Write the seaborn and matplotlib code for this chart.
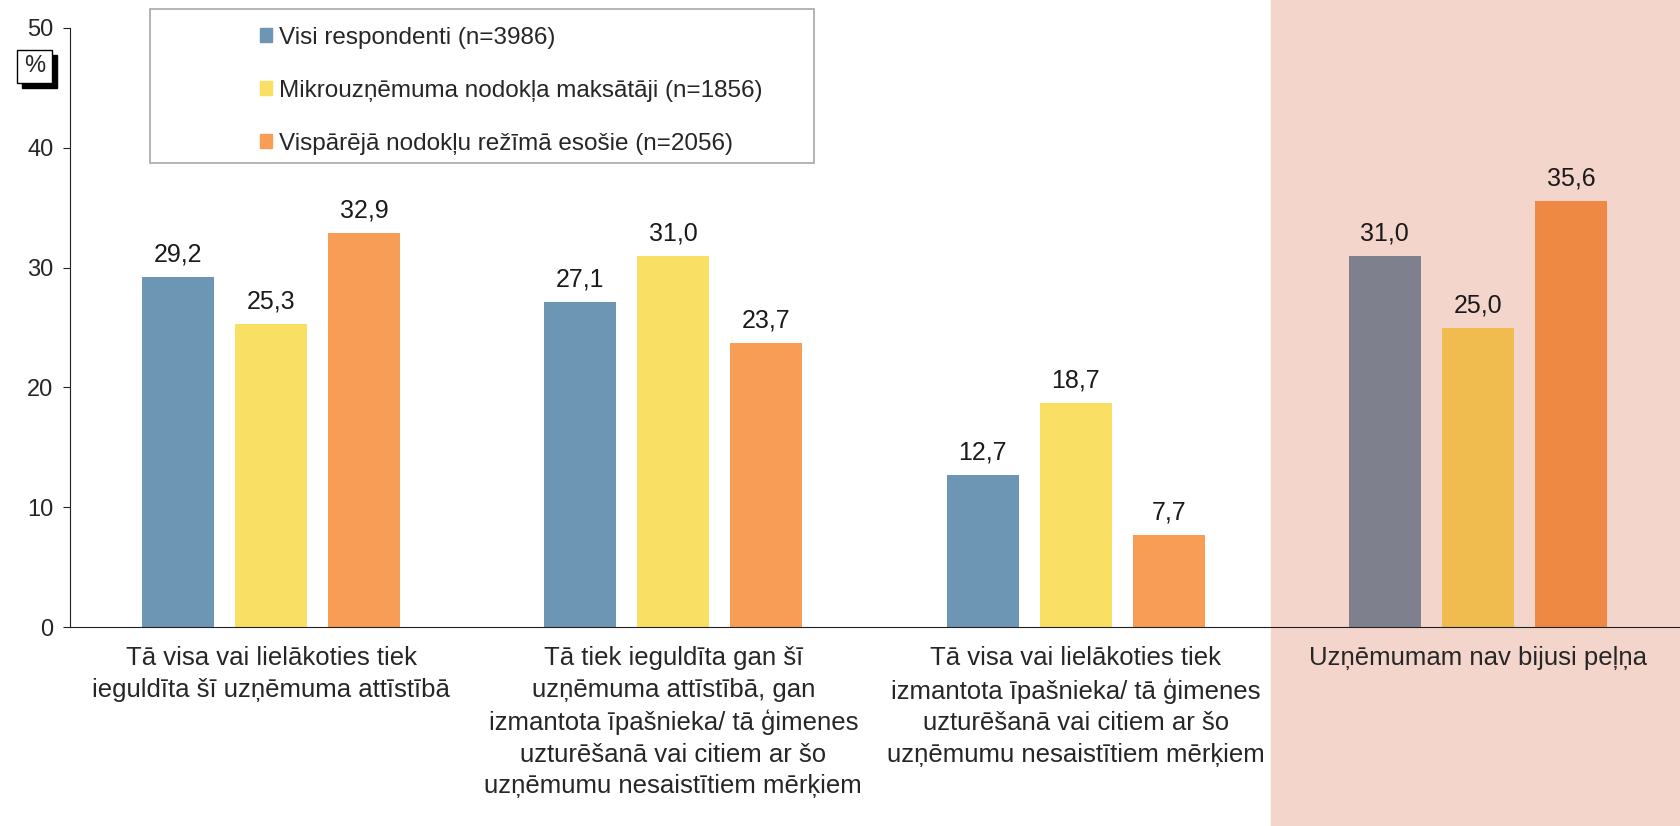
import pandas as pd
import matplotlib.pyplot as plt
import matplotlib.patches as mpatches
import seaborn as sns

categories = [
    'Tā visa vai lielākoties tiek\nieguldīta šī uzņēmuma attīstībā',
    'Tā tiek ieguldīta gan šī\nuzņēmuma attīstībā, gan\nizmantota īpašnieka/ tā ģimenes\nuzturēšanā vai citiem ar šo\nuzņēmumu nesaistītiem mērķiem',
    'Tā visa vai lielākoties tiek\nizmantota īpašnieka/ tā ģimenes\nuzturēšanā vai citiem ar šo\nuzņēmumu nesaistītiem mērķiem',
    'Uzņēmumam nav bijusi peļņa',
]
series = ['Visi respondenti (n=3986)',
          'Mikrouzņēmuma nodokļa maksātāji (n=1856)',
          'Vispārējā nodokļu režīmā esošie (n=2056)']
visi = [29.2, 27.1, 12.7, 31.0]
mikro = [25.3, 31.0, 18.7, 25.0]
vispar = [32.9, 23.7, 7.7, 35.6]

colors = ['#6c96b3', '#f9df63', '#f79d55']
last_colors = ['#7f808d', '#f0bc50', '#ee8944']

rows = []
for s, vals in zip(series, [visi, mikro, vispar]):
    for c, v in zip(categories, vals):
        rows.append({'cat': c, 'series': s, 'value': v})
df = pd.DataFrame(rows)

sns.set_style('white')
plt.rcParams['font.family'] = ['Liberation Sans', 'DejaVu Sans']

fig = plt.figure(figsize=(16.8, 8.26), dpi=100)
# pink band behind the last group
fig.patches.append(mpatches.Rectangle((1271 / 1680, 0), 1 - 1271 / 1680, 1,
                                      transform=fig.transFigure, color='#f4d5cc', zorder=-5))
ax = fig.add_axes([70 / 1680, 1 - 627 / 826, 1609 / 1680, 599 / 826])
ax.set_facecolor('none')

sns.barplot(data=df, x='cat', y='value', hue='series', palette=colors,
            width=0.694, gap=0.225, ax=ax, legend=False, saturation=1,
            linewidth=0, edgecolor='none')

for i, cont in enumerate(ax.containers):
    cont[3].set_facecolor(last_colors[i])
    ax.bar_label(cont, labels=[f'{v:.1f}'.replace('.', ',') for v in cont.datavalues],
                 padding=7.5, fontsize=18, color='#1a1a1a')

ax.set_xlim(-0.5, 3.5)
ax.set_ylim(0, 50)
ax.set_yticks([0, 10, 20, 30, 40, 50])
ax.set_xlabel('')
ax.set_ylabel('')
ax.set_xticks([0.5 * k - 0.5 for k in range(0, 9, 2)], minor=True)
ax.tick_params(axis='x', which='major', length=0, labelsize=18.5, pad=14)
ax.tick_params(axis='x', which='minor', length=7, direction='out', color='#222222')
ax.tick_params(axis='y', length=5, direction='out', left=True, labelsize=17, pad=7,
               color='#222222')
for lab in ax.get_xticklabels():
    lab.set_linespacing(1.39)
sns.despine(ax=ax)
ax.spines['left'].set_color('#222222')
ax.spines['bottom'].set_color('#222222')

# legend with its own frame
fig.patches.append(mpatches.Rectangle((150 / 1680, 1 - 163 / 826), 664 / 1680, 154 / 826,
                                      transform=fig.transFigure, fill=True, facecolor='white',
                                      edgecolor='#a8a8a8', lw=1.2, zorder=1))
handles = [mpatches.Patch(color=c) for c in colors]
leg = fig.legend(handles, series, loc='upper left', bbox_to_anchor=(238 / 1680, 1 - 5 / 826),
                 frameon=False, fontsize=17.5, handlelength=0.5, handleheight=0.5,
                 handletextpad=0.3, labelspacing=1.27)
leg.set_zorder(2)

# % box with shadow
fig.patches.append(mpatches.Rectangle((22 / 1680, 1 - 88 / 826), 35 / 1680, 33 / 826,
                                      transform=fig.transFigure, color='black', zorder=3))
fig.patches.append(mpatches.Rectangle((17 / 1680, 1 - 83 / 826), 35 / 1680, 33 / 826,
                                      transform=fig.transFigure, facecolor='white',
                                      edgecolor='black', lw=1, zorder=4))
fig.text(34.5 / 1680, 1 - 66.5 / 826, '%', ha='center', va='center', fontsize=17, zorder=5)

fig.savefig('out.png', dpi=100)
